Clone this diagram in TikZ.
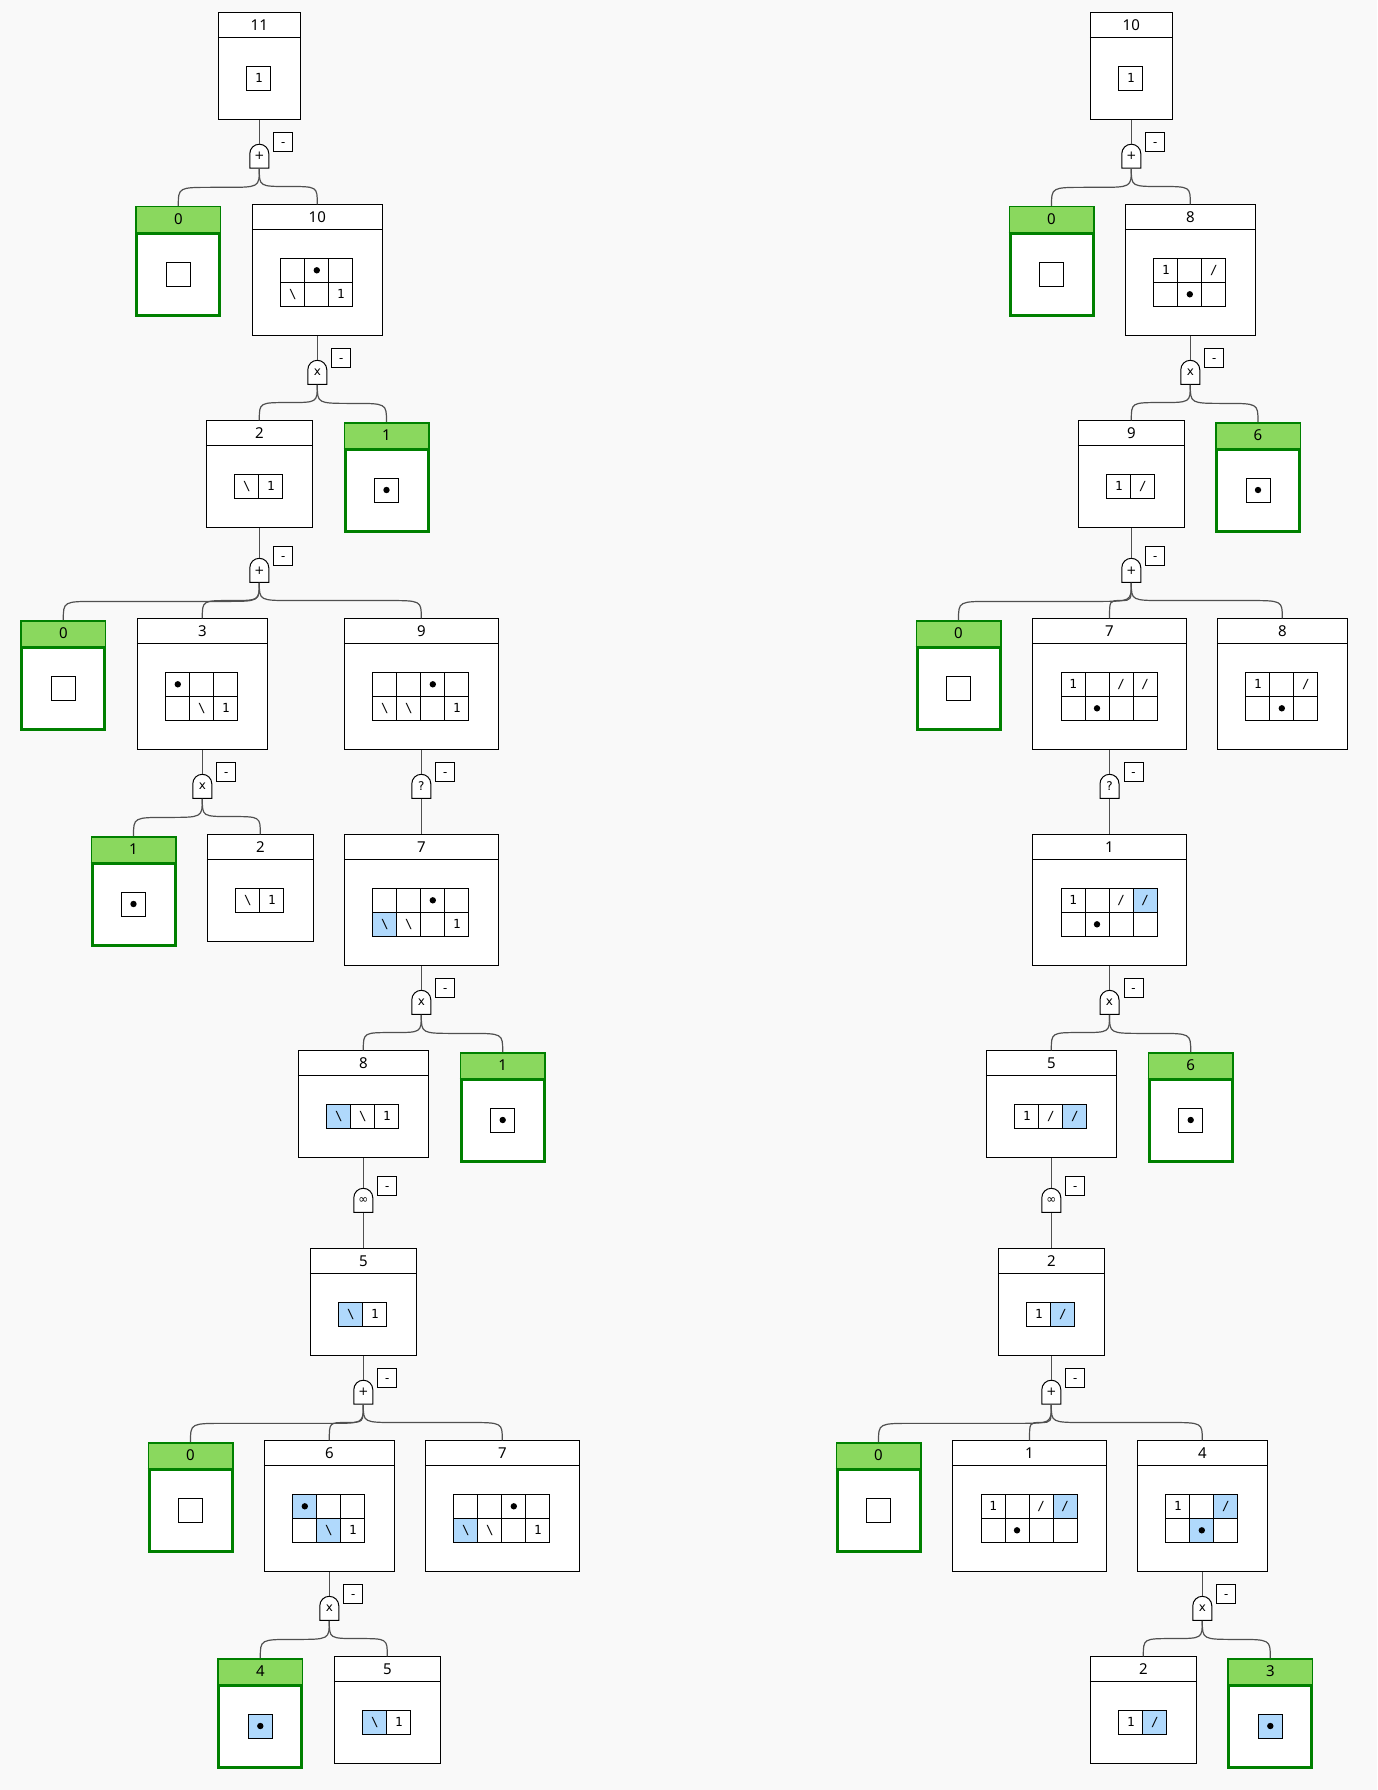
\documentclass[tikz,border=0pt]{standalone}
\usepackage{fontspec}
\usetikzlibrary{calc}

\newfontfamily\headfont{Noto Sans}
\newfontfamily\cellfont{DejaVu Sans Mono}
\newfontfamily\symfont{DejaVu Sans}

\definecolor{bg}{RGB}{249,249,249}
\definecolor{goalgreen}{RGB}{0,128,0}
\definecolor{goalhead}{RGB}{138,216,94}
\definecolor{sel}{RGB}{176,217,252}
\definecolor{linkgray}{RGB}{80,80,80}

\def\forkbend{34} % horizontal size of the bends of a fork

\newcommand{\dt}{\tikz\fill[black] (0,0) circle[radius=3.2pt];}
\newcommand{\bsl}{\textbackslash}
\newcommand{\sls}{/}

% board: name, top centre, number, columns, rows, cells
\newcommand{\board}[6]{%
  \node[board, minimum width={24*#4+58}, minimum height={24*#5+83}] (#1) at (#2) {};
  \draw ([shift={(0,25)}]#1.north west) -- ([shift={(0,25)}]#1.north east);
  \node[num] at ([shift={(0,12.5)}]#1.north) {#3};
  \foreach \c/\r/\t/\f in {#6}
    \node[cell, fill=\f] at ([shift={(24*\c+17, 24*\r+42)}]#1.north west) {\t};
}

% goal: name, top centre, number, cell text, cell fill
\newcommand{\goal}[5]{%
  \node[goalbox] (#1) at ([shift={(0,1.5)}]#2) {};
  \fill[goalhead] ([shift={(1.5,1.5)}]#1.north west) rectangle ([shift={(-1.5,27)}]#1.north east);
  \draw[goalline] ([shift={(0,27)}]#1.north west) -- ([shift={(0,27)}]#1.north east);
  \node[num] at ([shift={(0,13.5)}]#1.north) {#3};
  \node[cell, fill=#5] at ([shift={(0,68)}]#1.north) {#4};
}

% gate: name, centre, symbol
\newcommand{\gate}[3]{%
  \draw[fill=white] ([shift={(-9.5,12)}]#2) -- ++(0,-14.5)
    arc[start angle=180, end angle=0, radius=9.5pt] -- ++(0,14.5) -- cycle;
  \node[gate] (#1) at (#2) {\raisebox{-1.5pt}{#3}};
  \node[minus] (#1m) at ([shift={(24,-14.4)}]#2) {-};
}

\newcommand{\stem}[2]{\draw[link] (#1.south) -- (#2.north);}
\newcommand{\fork}[2]{%
  \draw[link] let \p1=(#1.south), \p2=(#2.north), \p3=($(\p1)!.5!(\p2)$),
    \n1={max(min((\x2-\x1)/2,\forkbend),-\forkbend)} in
    (\p1) .. controls (\x1,\y3) .. (\x1+\n1,\y3) -- (\x2-\n1,\y3)
    .. controls (\x2,\y3) .. (\p2);
}

\begin{document}
\begin{tikzpicture}[x=1pt, y=-1pt, line width=1pt,
  board/.style={draw, fill=white, anchor=north, inner sep=0},
  num/.style={font=\headfont\fontsize{15}{18}\selectfont},
  cell/.style={draw, minimum size=24, inner sep=0, font=\cellfont\fontsize{12.5}{14}\selectfont},
  goalbox/.style={draw=goalgreen, line width=3, fill=white, anchor=north, inner sep=0,
    minimum width=83, minimum height=108},
  goalline/.style={draw=goalgreen, line width=3},
  gate/.style={inner sep=0, minimum width=19, minimum height=24, font=\symfont\fontsize{12}{14}\selectfont},
  minus/.style={draw, fill=white, inner sep=0, minimum size=19, text height=9, text depth=0,
    font=\headfont\fontsize{13}{14}\selectfont},
  link/.style={draw=linkgray, line width=1.2}]

\fill[bg] (0,0) rectangle (1377,1790);
\useasboundingbox (0,0) rectangle (1377,1790);

% left tree
\board{L11}{259.3,12.3}{11}{1}{1}{1/1/1/white}
\gate{La}{259.3,156.2}{+}
\goal{L0a}{178.3,204.5}{0}{}{white}
\board{L10}{317.3,204.3}{10}{3}{2}{1/1//white, 2/1/\dt/white, 3/1//white,
  1/2/\bsl/white, 2/2//white, 3/2/1/white}
\gate{Lb}{317.3,372.3}{x}
\board{L2a}{259.3,420.3}{2}{2}{1}{1/1/\bsl/white, 2/1/1/white}
\goal{L1a}{386.5,420.5}{1}{\dt}{white}
\gate{Lc}{259.3,570.3}{+}
\goal{L0b}{63.3,618.5}{0}{}{white}
\board{L3}{202.3,618.3}{3}{3}{2}{1/1/\dt/white, 2/1//white, 3/1//white,
  1/2//white, 2/2/\bsl/white, 3/2/1/white}
\board{L9}{421.3,618.3}{9}{4}{2}{1/1//white, 2/1//white, 3/1/\dt/white, 4/1//white,
  1/2/\bsl/white, 2/2/\bsl/white, 3/2//white, 4/2/1/white}
\gate{Ld}{202.3,786.3}{x}
\gate{Le}{421.3,786.3}{?}
\goal{L1b}{133.5,834.5}{1}{\dt}{white}
\board{L2b}{260.3,834.3}{2}{2}{1}{1/1/\bsl/white, 2/1/1/white}
\board{L7a}{421.3,834.3}{7}{4}{2}{1/1//white, 2/1//white, 3/1/\dt/white, 4/1//white,
  1/2/\bsl/sel, 2/2/\bsl/white, 3/2//white, 4/2/1/white}
\gate{Lf}{421.3,1002.3}{x}
\board{L8}{363.3,1050.3}{8}{3}{1}{1/1/\bsl/sel, 2/1/\bsl/white, 3/1/1/white}
\goal{L1c}{502.7,1050.5}{1}{\dt}{white}
\gate{Lg}{363.3,1200.3}{∞}
\board{L5a}{363.3,1248.3}{5}{2}{1}{1/1/\bsl/sel, 2/1/1/white}
\gate{Lh}{363.3,1392.2}{+}
\goal{L0c}{190.5,1440.5}{0}{}{white}
\board{L6}{329.3,1440.3}{6}{3}{2}{1/1/\dt/sel, 2/1//white, 3/1//white,
  1/2//white, 2/2/\bsl/sel, 3/2/1/white}
\board{L7b}{502.3,1440.3}{7}{4}{2}{1/1//white, 2/1//white, 3/1/\dt/white, 4/1//white,
  1/2/\bsl/sel, 2/2/\bsl/white, 3/2//white, 4/2/1/white}
\gate{Li}{329.3,1608.3}{x}
\goal{L4}{260.3,1656.5}{4}{\dt}{sel}
\board{L5b}{387.3,1656.3}{5}{2}{1}{1/1/\bsl/sel, 2/1/1/white}

% right tree
\board{R10}{1131.3,12.3}{10}{1}{1}{1/1/1/white}
\gate{Ra}{1131.3,156.2}{+}
\goal{R0a}{1051.5,204.5}{0}{}{white}
\board{R8a}{1190.3,204.3}{8}{3}{2}{1/1/1/white, 2/1//white, 3/1/\sls/white,
  1/2//white, 2/2/\dt/white, 3/2//white}
\gate{Rb}{1190.3,372.3}{x}
\board{R9}{1131.3,420.3}{9}{2}{1}{1/1/1/white, 2/1/\sls/white}
\goal{R6a}{1258,420.5}{6}{\dt}{white}
\gate{Rc}{1131.3,570.3}{+}
\goal{R0b}{958.5,618.5}{0}{}{white}
\board{R7}{1109.5,618.3}{7}{4}{2}{1/1/1/white, 2/1//white, 3/1/\sls/white, 4/1/\sls/white,
  1/2//white, 2/2/\dt/white, 3/2//white, 4/2//white}
\board{R8b}{1282.3,618.3}{8}{3}{2}{1/1/1/white, 2/1//white, 3/1/\sls/white,
  1/2//white, 2/2/\dt/white, 3/2//white}
\gate{Rd}{1109.5,786.3}{?}
\board{R1a}{1109.5,834.3}{1}{4}{2}{1/1/1/white, 2/1//white, 3/1/\sls/white, 4/1/\sls/sel,
  1/2//white, 2/2/\dt/white, 3/2//white, 4/2//white}
\gate{Re}{1109.5,1002.3}{x}
\board{R5}{1051.3,1050.3}{5}{3}{1}{1/1/1/white, 2/1/\sls/white, 3/1/\sls/sel}
\goal{R6b}{1190.7,1050.5}{6}{\dt}{white}
\gate{Rf}{1051.3,1200.3}{∞}
\board{R2a}{1051.3,1248.3}{2}{2}{1}{1/1/1/white, 2/1/\sls/sel}
\gate{Rg}{1051.3,1392.2}{+}
\goal{R0c}{878.5,1440.5}{0}{}{white}
\board{R1b}{1029.5,1440.3}{1}{4}{2}{1/1/1/white, 2/1//white, 3/1/\sls/white, 4/1/\sls/sel,
  1/2//white, 2/2/\dt/white, 3/2//white, 4/2//white}
\board{R4}{1202.3,1440.3}{4}{3}{2}{1/1/1/white, 2/1//white, 3/1/\sls/sel,
  1/2//white, 2/2/\dt/sel, 3/2//white}
\gate{Rh}{1202.3,1608.3}{x}
\board{R2b}{1143.3,1656.3}{2}{2}{1}{1/1/1/white, 2/1/\sls/sel}
\goal{R3}{1270.3,1656.5}{3}{\dt}{sel}

% links, left
\stem{L11}{La} \fork{La}{L0a} \fork{La}{L10}
\stem{L10}{Lb} \fork{Lb}{L2a} \fork{Lb}{L1a}
\stem{L2a}{Lc} \fork{Lc}{L0b} \fork{Lc}{L3} \fork{Lc}{L9}
\stem{L3}{Ld} \fork{Ld}{L1b} \fork{Ld}{L2b}
\stem{L9}{Le} \stem{Le}{L7a}
\stem{L7a}{Lf} \fork{Lf}{L8} \fork{Lf}{L1c}
\stem{L8}{Lg} \stem{Lg}{L5a}
\stem{L5a}{Lh} \fork{Lh}{L0c} \fork{Lh}{L6} \fork{Lh}{L7b}
\stem{L6}{Li} \fork{Li}{L4} \fork{Li}{L5b}

% links, right
\stem{R10}{Ra} \fork{Ra}{R0a} \fork{Ra}{R8a}
\stem{R8a}{Rb} \fork{Rb}{R9} \fork{Rb}{R6a}
\stem{R9}{Rc} \fork{Rc}{R0b} \fork{Rc}{R7} \fork{Rc}{R8b}
\stem{R7}{Rd} \stem{Rd}{R1a}
\stem{R1a}{Re} \fork{Re}{R5} \fork{Re}{R6b}
\stem{R5}{Rf} \stem{Rf}{R2a}
\stem{R2a}{Rg} \fork{Rg}{R0c} \fork{Rg}{R1b} \fork{Rg}{R4}
\stem{R4}{Rh} \fork{Rh}{R2b} \fork{Rh}{R3}

\end{tikzpicture}
\end{document}
